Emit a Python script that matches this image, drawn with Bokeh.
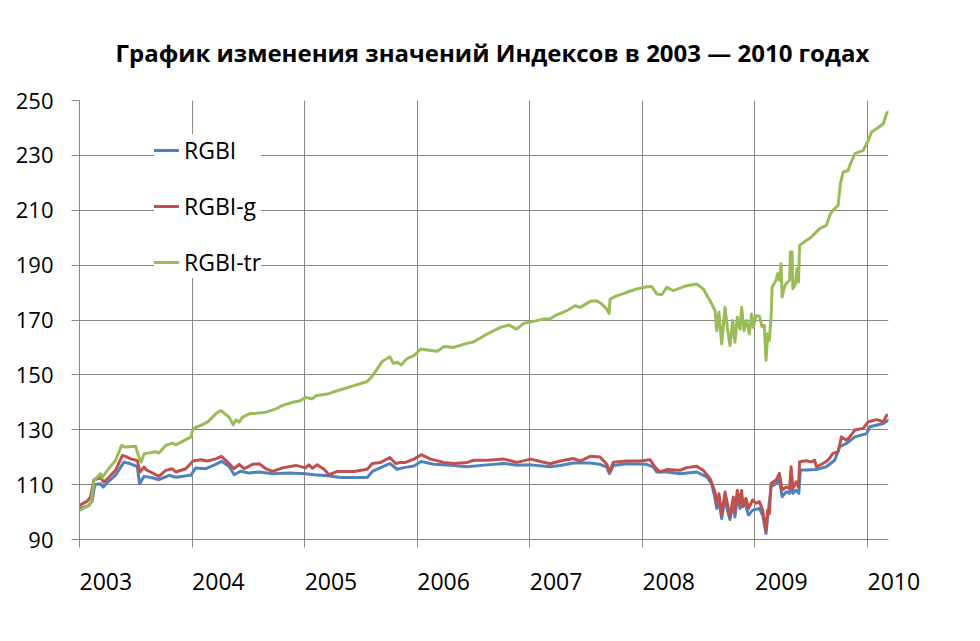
from bokeh.plotting import figure
from bokeh.models import FixedTicker, Legend, LegendItem, Range1d
from bokeh.embed import file_html
from bokeh.resources import INLINE

title_text = "График изменения значений Индексов в 2003 — 2010 годах"
year_ticks = [2003, 2004, 2005, 2006, 2007, 2008, 2009, 2010]
value_ticks = [90, 110, 130, 150, 170, 190, 210, 230, 250]

rgbi_dates = [
    2003.000, 2003.083, 2003.113, 2003.136, 2003.187, 2003.211, 2003.261, 2003.320, 2003.395, 2003.454,
    2003.513, 2003.534, 2003.573, 2003.647, 2003.706, 2003.795, 2003.855, 2003.988, 2004.033, 2004.122,
    2004.211, 2004.261, 2004.329, 2004.374, 2004.433, 2004.507, 2004.596, 2004.715, 2004.864, 2005.006,
    2005.083, 2005.201, 2005.320, 2005.556, 2005.601, 2005.675, 2005.757, 2005.822, 2005.882, 2005.970,
    2006.036, 2006.148, 2006.296, 2006.444, 2006.621, 2006.769, 2006.888, 2007.006, 2007.183, 2007.269,
    2007.388, 2007.536, 2007.624, 2007.683, 2007.707, 2007.743, 2007.861, 2008.038, 2008.098, 2008.127,
    2008.216, 2008.334, 2008.482, 2008.571, 2008.615, 2008.645, 2008.660, 2008.680, 2008.704, 2008.734,
    2008.754, 2008.778, 2008.808, 2008.822, 2008.843, 2008.867, 2008.882, 2008.920, 2008.943, 2008.979,
    2009.039, 2009.068, 2009.098, 2009.113, 2009.143, 2009.188, 2009.217, 2009.241, 2009.277, 2009.307,
    2009.321, 2009.336, 2009.366, 2009.390, 2009.402, 2009.455, 2009.545, 2009.634, 2009.708, 2009.753,
    2009.813, 2009.887, 2009.991, 2010.021, 2010.140, 2010.185,
]
rgbi_values = [
    101.2, 102.4, 104.2, 110.0, 110.3, 109.1, 111.3, 113.4, 118.2, 117.6,
    116.6, 110.3, 113.0, 112.5, 111.8, 113.4, 112.7, 113.4, 116.1, 115.8,
    117.4, 118.5, 116.6, 113.6, 114.9, 114.2, 114.6, 114.0, 114.2, 114.0,
    113.6, 113.2, 112.6, 112.6, 114.8, 116.2, 117.7, 115.6, 116.2, 116.8,
    118.4, 117.4, 117.1, 116.5, 117.2, 117.7, 117.1, 117.2, 116.5, 117.0,
    117.9, 117.9, 117.4, 116.4, 114.0, 117.0, 117.6, 117.4, 116.4, 114.6,
    114.6, 114.0, 114.6, 112.8, 110.4, 104.9, 101.3, 104.3, 97.6, 105.5,
    100.7, 97.3, 103.7, 98.2, 105.5, 101.3, 105.5, 101.9, 98.9, 100.7,
    101.3, 98.9, 92.2, 98.3, 109.2, 110.4, 111.7, 105.6, 107.4, 106.8,
    114.5, 106.8, 108.0, 106.8, 115.3, 115.3, 115.5, 116.5, 118.9, 123.8,
    125.0, 127.4, 128.6, 131.1, 132.3, 133.5,
]

rgbi_g_dates = [
    2003.000, 2003.068, 2003.098, 2003.128, 2003.187, 2003.217, 2003.261, 2003.320, 2003.380, 2003.409,
    2003.454, 2003.513, 2003.537, 2003.573, 2003.593, 2003.632, 2003.706, 2003.766, 2003.825, 2003.855,
    2003.944, 2004.009, 2004.077, 2004.136, 2004.211, 2004.261, 2004.315, 2004.374, 2004.418, 2004.463,
    2004.537, 2004.596, 2004.656, 2004.715, 2004.804, 2004.923, 2005.006, 2005.038, 2005.068, 2005.112,
    2005.172, 2005.216, 2005.290, 2005.438, 2005.556, 2005.601, 2005.675, 2005.757, 2005.808, 2005.852,
    2005.896, 2005.970, 2006.036, 2006.118, 2006.237, 2006.325, 2006.444, 2006.503, 2006.621, 2006.769,
    2006.888, 2007.006, 2007.095, 2007.180, 2007.269, 2007.388, 2007.447, 2007.536, 2007.624, 2007.683,
    2007.707, 2007.743, 2007.861, 2007.979, 2008.068, 2008.112, 2008.157, 2008.216, 2008.334, 2008.393,
    2008.482, 2008.541, 2008.601, 2008.645, 2008.660, 2008.680, 2008.704, 2008.734, 2008.754, 2008.778,
    2008.808, 2008.822, 2008.843, 2008.867, 2008.882, 2008.890, 2008.920, 2008.943, 2008.979, 2009.009,
    2009.039, 2009.068, 2009.098, 2009.113, 2009.128, 2009.143, 2009.188, 2009.217, 2009.241, 2009.277,
    2009.307, 2009.321, 2009.336, 2009.366, 2009.387, 2009.396, 2009.455, 2009.500, 2009.530, 2009.545,
    2009.604, 2009.649, 2009.693, 2009.738, 2009.768, 2009.813, 2009.842, 2009.887, 2009.961, 2010.006,
    2010.080, 2010.140, 2010.170,
]
rgbi_g_values = [
    102.4, 104.0, 105.5, 111.8, 112.5, 110.9, 112.7, 115.2, 120.6, 120.3,
    119.4, 118.8, 114.6, 116.4, 115.4, 114.6, 113.0, 115.2, 115.8, 114.6,
    115.8, 118.6, 119.1, 118.6, 119.4, 120.3, 118.2, 115.8, 117.4, 115.8,
    117.4, 117.6, 115.8, 114.8, 116.1, 117.0, 116.1, 117.2, 116.0, 117.2,
    115.6, 113.6, 114.8, 114.8, 115.6, 117.7, 118.1, 119.9, 117.7, 118.1,
    118.1, 119.3, 120.9, 119.3, 118.1, 117.7, 118.1, 118.9, 118.9, 119.3,
    118.1, 119.3, 118.4, 117.6, 118.6, 119.5, 118.6, 120.3, 120.1, 117.4,
    114.6, 118.2, 118.6, 118.6, 119.1, 116.4, 114.6, 115.5, 115.2, 116.2,
    116.7, 115.2, 112.2, 107.3, 102.5, 106.7, 98.9, 107.3, 103.1, 98.2,
    105.5, 100.1, 107.9, 103.1, 107.9, 101.9, 105.0, 101.3, 104.4, 103.2,
    103.8, 100.7, 93.4, 100.7, 99.5, 110.4, 111.7, 114.1, 108.0, 109.2,
    108.6, 116.5, 108.6, 111.0, 109.2, 118.3, 118.7, 118.3, 118.9, 116.5,
    117.7, 118.9, 121.4, 122.0, 127.4, 126.2, 127.4, 129.9, 130.5, 132.9,
    133.7, 132.9, 135.3,
]

rgbi_tr_dates = [
    2003.000, 2003.083, 2003.107, 2003.128, 2003.187, 2003.202, 2003.246, 2003.320, 2003.374, 2003.409,
    2003.498, 2003.528, 2003.549, 2003.573, 2003.677, 2003.706, 2003.766, 2003.825, 2003.855, 2003.988,
    2004.009, 2004.077, 2004.136, 2004.211, 2004.255, 2004.329, 2004.365, 2004.389, 2004.418, 2004.448,
    2004.507, 2004.567, 2004.656, 2004.745, 2004.804, 2004.893, 2004.960, 2005.009, 2005.068, 2005.098,
    2005.201, 2005.290, 2005.408, 2005.556, 2005.592, 2005.630, 2005.689, 2005.757, 2005.787, 2005.822,
    2005.858, 2005.905, 2005.970, 2006.030, 2006.089, 2006.178, 2006.237, 2006.325, 2006.414, 2006.503,
    2006.621, 2006.740, 2006.814, 2006.882, 2006.947, 2007.036, 2007.124, 2007.180, 2007.240, 2007.328,
    2007.402, 2007.447, 2007.536, 2007.595, 2007.639, 2007.683, 2007.704, 2007.713, 2007.772, 2007.861,
    2007.950, 2008.038, 2008.083, 2008.127, 2008.172, 2008.216, 2008.275, 2008.393, 2008.482, 2008.541,
    2008.601, 2008.645, 2008.660, 2008.680, 2008.704, 2008.734, 2008.754, 2008.778, 2008.802, 2008.822,
    2008.843, 2008.867, 2008.882, 2008.902, 2008.926, 2008.950, 2008.970, 2008.985, 2009.009, 2009.039,
    2009.063, 2009.083, 2009.098, 2009.113, 2009.128, 2009.143, 2009.152, 2009.188, 2009.202, 2009.217,
    2009.232, 2009.241, 2009.262, 2009.277, 2009.307, 2009.315, 2009.330, 2009.336, 2009.360, 2009.372,
    2009.387, 2009.396, 2009.455, 2009.500, 2009.574, 2009.634, 2009.670, 2009.693, 2009.738, 2009.759,
    2009.783, 2009.827, 2009.842, 2009.887, 2009.961, 2010.006, 2010.036, 2010.080, 2010.140, 2010.170,
    2010.185,
]
rgbi_tr_values = [
    100.6, 102.4, 104.2, 111.5, 114.0, 112.5, 115.2, 118.8, 124.3, 123.7,
    124.0, 120.0, 118.2, 121.2, 122.0, 121.5, 124.3, 125.1, 124.5, 127.3,
    130.4, 131.6, 132.8, 135.8, 137.0, 134.6, 131.8, 133.6, 132.8, 134.6,
    135.8, 136.0, 136.4, 137.6, 138.9, 140.0, 140.6, 141.8, 141.2, 142.4,
    143.0, 144.2, 145.7, 147.6, 149.1, 151.3, 154.9, 156.6, 154.2, 154.6,
    153.6, 155.8, 157.0, 159.4, 159.1, 158.6, 160.3, 160.0, 161.2, 162.1,
    164.9, 167.3, 168.2, 166.7, 168.8, 169.5, 170.4, 170.4, 171.9, 173.4,
    175.2, 174.6, 176.8, 177.0, 175.8, 174.0, 172.4, 177.6, 178.8, 180.1,
    181.3, 182.1, 182.2, 179.5, 179.2, 181.9, 180.7, 182.5, 183.1, 181.3,
    177.0, 173.4, 166.1, 172.8, 161.3, 174.6, 167.3, 160.7, 169.8, 161.9,
    171.0, 166.7, 174.6, 166.1, 169.8, 164.9, 172.2, 167.3, 171.6, 171.4,
    167.5, 168.1, 155.3, 165.0, 162.6, 171.1, 182.0, 184.5, 186.9, 184.5,
    190.5, 178.4, 182.0, 183.3, 184.5, 194.8, 194.8, 181.4, 183.3, 188.7,
    183.9, 197.2, 199.0, 200.2, 203.3, 204.5, 208.7, 210.0, 211.8, 219.7,
    223.9, 224.5, 226.3, 230.6, 231.8, 235.4, 238.5, 239.7, 241.5, 245.4,
    245.8,
]

series_names = ["RGBI", "RGBI-g", "RGBI-tr"]
series_colors = ["#4F81BD", "#C0504D", "#9BBB59"]

FONT = "Open Sans"
GRID = "#868686"

p = figure(
    width=964, height=625,
    x_range=Range1d(2003, 2010.186), y_range=Range1d(90, 250),
    output_backend="svg", toolbar_location=None,
    min_border_left=79, min_border_right=76, min_border_top=100, min_border_bottom=86,
    title=title_text,
)
p.background_fill_color = "white"
p.border_fill_color = "white"
p.outline_line_color = None

p.title.text_font = FONT
p.title.text_font_style = "bold"
p.title.text_font_size = "24px"
p.title.text_color = "black"
p.title.align = "left"
p.title.offset = 36
p.title.standoff = 64

xa = p.xaxis[0]
xa.ticker = FixedTicker(ticks=year_ticks)
xa.major_label_orientation = -0.0001
xa.major_label_text_font = FONT
xa.major_label_text_font_size = "23px"
xa.major_label_text_color = "black"
xa.major_label_standoff = 34
xa.major_tick_out = 8
xa.major_tick_in = 0
xa.minor_tick_line_color = None
xa.axis_line_color = GRID
xa.major_tick_line_color = GRID

ya = p.yaxis[0]
ya.ticker = FixedTicker(ticks=value_ticks)
ya.major_label_text_font = FONT
ya.major_label_text_font_size = "22px"
ya.major_label_text_color = "black"
ya.major_label_standoff = 18
ya.major_tick_out = 8
ya.major_tick_in = 0
ya.minor_tick_line_color = None
ya.axis_line_color = GRID
ya.major_tick_line_color = GRID

p.xgrid.ticker = FixedTicker(ticks=year_ticks)
p.ygrid.ticker = FixedTicker(ticks=value_ticks)
for g in (p.xgrid[0], p.ygrid[0]):
    g.grid_line_color = GRID
    g.grid_line_width = 1

data = [(rgbi_dates, rgbi_values), (rgbi_g_dates, rgbi_g_values), (rgbi_tr_dates, rgbi_tr_values)]
renderers = []
for (xs, ys), color in zip(data, series_colors):
    r = p.line(xs, ys, line_color=color, line_width=3, line_join="round", line_cap="round")
    renderers.append(r)

legend = Legend(
    items=[LegendItem(label=n, renderers=[r]) for n, r in zip(series_names, renderers)],
    location=(75, 261),
    padding=10, spacing=24, margin=0,
    label_height=30, glyph_height=30, glyph_width=25, label_standoff=5,
    border_line_color=None, background_fill_color="white", background_fill_alpha=1.0,
    label_text_font=FONT, label_text_font_size="23px", label_text_color="black",
)
p.add_layout(legend)

open("out.html", "w").write(file_html(p, INLINE))
